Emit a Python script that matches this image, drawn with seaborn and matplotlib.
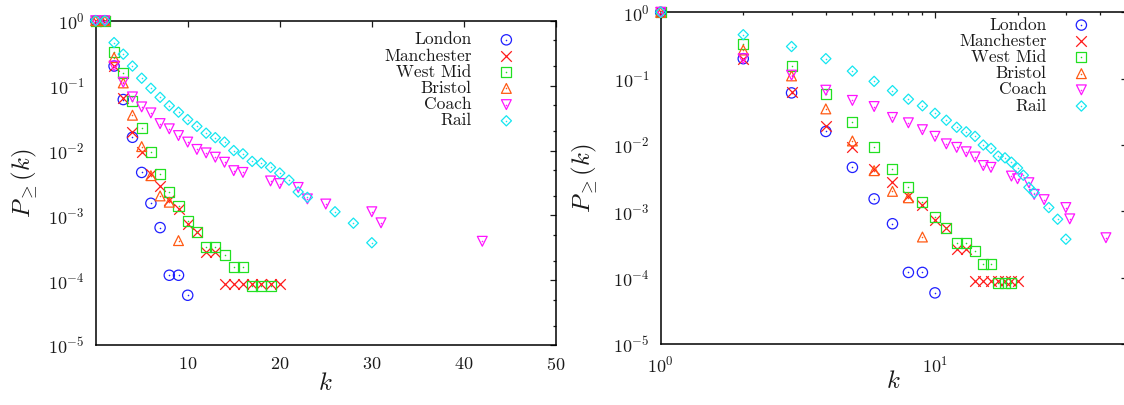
import matplotlib
matplotlib.use("Agg")
import numpy as np
import pandas as pd
import matplotlib.pyplot as plt
import seaborn as sns
from matplotlib.ticker import FixedLocator, LogLocator, NullFormatter
from matplotlib.legend_handler import HandlerTuple

# Cumulative degree distributions P>=(k) of the transport networks
networks = ["London", "Manchester", "West Mid", "Bristol", "Coach", "Rail"]

london_k = [0, 1, 2, 3, 4, 5, 6, 7, 8, 9, 10]
london_p = [1.0, 1.0, 0.20, 0.061, 0.016, 0.0046, 0.00154, 0.00065,
            0.00012, 0.00012, 0.000059]

manchester_k = [0, 1, 2, 3, 4, 5, 6, 7, 8, 9, 10, 11, 12, 13, 14, 15, 16,
                17, 18, 19, 20]
manchester_p = [1.0, 1.0, 0.20, 0.064, 0.019, 0.0094, 0.0043, 0.0028,
                0.0017, 0.00126, 0.00075, 0.00056, 0.00027, 0.00027,
                0.000089, 0.000089, 0.000089, 0.000089, 0.000089, 0.000089,
                0.000089]

westmid_k = [0, 1, 2, 3, 4, 5, 6, 7, 8, 9, 10, 11, 12, 13, 14, 15, 16, 17,
             18, 19]
westmid_p = [1.0, 1.0, 0.33, 0.154, 0.058, 0.022, 0.0094, 0.0043, 0.0023,
             0.00139, 0.00083, 0.00056, 0.00033, 0.00033, 0.00025, 0.000163,
             0.000163, 0.000082, 0.000082, 0.000082]

bristol_k = [0, 1, 2, 3, 4, 5, 6, 7, 8, 9]
bristol_p = [1.0, 1.0, 0.27, 0.11, 0.035, 0.0115, 0.0041, 0.0020, 0.0016,
             0.00041]

coach_k = [0, 1, 2, 3, 4, 5, 6, 7, 8, 9, 10, 11, 12, 13, 14, 15, 16, 19, 20,
           22, 23, 25, 30, 31, 42]
coach_p = [1.0, 1.0, 0.20, 0.113, 0.067, 0.047, 0.038, 0.026, 0.0216, 0.017,
           0.0135, 0.0104, 0.0092, 0.0079, 0.0066, 0.0049, 0.0046, 0.0034,
           0.0031, 0.0027, 0.0018, 0.00150, 0.00114, 0.00077, 0.00040]

rail_k = [0, 1, 2, 3, 4, 5, 6, 7, 8, 9, 10, 11, 12, 13, 14, 15, 16, 17, 18,
          19, 20, 21, 22, 23, 26, 28, 30]
rail_p = [1.0, 1.0, 0.46, 0.305, 0.20, 0.13, 0.091, 0.066, 0.049, 0.039,
          0.030, 0.0236, 0.0185, 0.0158, 0.0135, 0.0100, 0.0089, 0.0068,
          0.0064, 0.0055, 0.0045, 0.0035, 0.0023, 0.0019, 0.00114, 0.00076,
          0.00038]

series = {
    "London": (london_k, london_p),
    "Manchester": (manchester_k, manchester_p),
    "West Mid": (westmid_k, westmid_p),
    "Bristol": (bristol_k, bristol_p),
    "Coach": (coach_k, coach_p),
    "Rail": (rail_k, rail_p),
}

frame = pd.concat(
    [pd.DataFrame({"network": name, "k": ks, "P": ps})
     for name, (ks, ps) in series.items()],
    ignore_index=True,
)

# open gnuplot-like point types, each with a small centre dot
point_style = {
    "London": dict(marker="o", color="#1f1fff", s=55, dot=True),
    "Manchester": dict(marker="x", color="#ff1a1a", s=58, dot=False),
    "West Mid": dict(marker="s", color="#22e022", s=52, dot=True),
    "Bristol": dict(marker="^", color="#ff5a14", s=50, dot=True),
    "Coach": dict(marker="v", color="#ff14ff", s=50, dot=True),
    "Rail": dict(marker="D", color="#14e6f0", s=27, dot=True),
}

sns.set_theme(style="white")
plt.rcParams.update({
    "font.family": ["cmr10", "DejaVu Serif"],
    "mathtext.fontset": "cm",
    "axes.formatter.use_mathtext": True,
    "axes.unicode_minus": False,
    "text.color": "#1a1a1a",
    "axes.labelcolor": "#1a1a1a",
    "xtick.color": "#1a1a1a",
    "ytick.color": "#1a1a1a",
    "axes.edgecolor": "black",
    "axes.linewidth": 1.1,
})

fig = plt.figure(figsize=(11.24, 4.05), dpi=100)
ax_lin = fig.add_axes([0.0851, 0.1474, 0.4095, 0.8015])
ax_log = fig.add_axes([0.5878, 0.1506, 0.4146, 0.8190])


def draw_series(ax, log_x):
    handles = []
    for name in networks:
        st = point_style[name]
        df = frame[frame["network"] == name]
        if log_x:
            df = df[df["k"] > 0]
        n0 = len(ax.collections)
        if st["dot"]:
            sns.scatterplot(data=df, x="k", y="P", ax=ax, marker=st["marker"],
                            s=st["s"], facecolor="none",
                            edgecolor=st["color"], linewidth=0.9,
                            clip_on=False, zorder=3)
            main = ax.collections[n0]
            sns.scatterplot(data=df, x="k", y="P", ax=ax, marker="o", s=1.3,
                            color=st["color"], edgecolor=st["color"],
                            linewidth=0, clip_on=False, zorder=3)
            dot = ax.collections[n0 + 1]
            handles.append((main, dot))
        else:
            sns.scatterplot(data=df, x="k", y="P", ax=ax, marker=st["marker"],
                            s=st["s"], color=st["color"], linewidth=0.9,
                            clip_on=False, zorder=3)
            handles.append(ax.collections[n0])
    return handles


def style_axes(ax):
    ax.set_yscale("log")
    ax.set_ylim(1e-5, 1)
    ax.yaxis.set_major_locator(LogLocator(base=10, numticks=10))
    ax.yaxis.set_minor_locator(LogLocator(base=10, subs=(2.0, 5.0), numticks=10))
    ax.yaxis.set_minor_formatter(NullFormatter())
    ax.tick_params(which="both", direction="in", top=True, right=True,
                   labelsize=13, pad=8, width=0.9)
    ax.tick_params(which="major", length=4)
    ax.tick_params(which="minor", length=2.3)
    for sp in ax.spines.values():
        sp.set_visible(True)
        sp.set_color("black")
        sp.set_linewidth(1.1)
    ax.set_xlabel("$k$", fontsize=18)
    ax.set_ylabel(r"$P_{\geq}(k)$", fontsize=18)


def add_legend(ax, handles, anchor):
    leg = ax.legend(handles, networks, loc="upper right",
                    bbox_to_anchor=anchor, frameon=False, markerfirst=False,
                    fontsize=12.5, handlelength=2.0, handletextpad=1.0,
                    labelspacing=0.05, borderpad=0, borderaxespad=0,
                    scatterpoints=1,
                    handler_map={tuple: HandlerTuple(ndivide=1)})
    for t in leg.get_texts():
        t.set_color("#1a1a1a")
    return leg


# linear k axis
h_lin = draw_series(ax_lin, log_x=False)
style_axes(ax_lin)
ax_lin.set_xlim(0, 50)
ax_lin.xaxis.set_major_locator(FixedLocator([10, 20, 30, 40, 50]))
ax_lin.xaxis.set_minor_locator(FixedLocator([]))
ax_lin.xaxis.set_label_coords(0.5, -0.085)
ax_lin.yaxis.set_label_coords(-0.121, 0.5)
add_legend(ax_lin, h_lin, (0.93, 0.965))

# logarithmic k axis
h_log = draw_series(ax_log, log_x=True)
style_axes(ax_log)
ax_log.set_xscale("log")
ax_log.set_xlim(1, 50)
ax_log.xaxis.set_major_locator(LogLocator(base=10, numticks=5))
ax_log.xaxis.set_minor_locator(LogLocator(base=10, subs=np.arange(2, 10), numticks=10))
ax_log.xaxis.set_minor_formatter(NullFormatter())
ax_log.xaxis.set_label_coords(0.5, -0.082)
ax_log.yaxis.set_label_coords(-0.130, 0.5)
add_legend(ax_log, h_log, (0.94, 0.985))

fig.savefig("out.png", dpi=100)
